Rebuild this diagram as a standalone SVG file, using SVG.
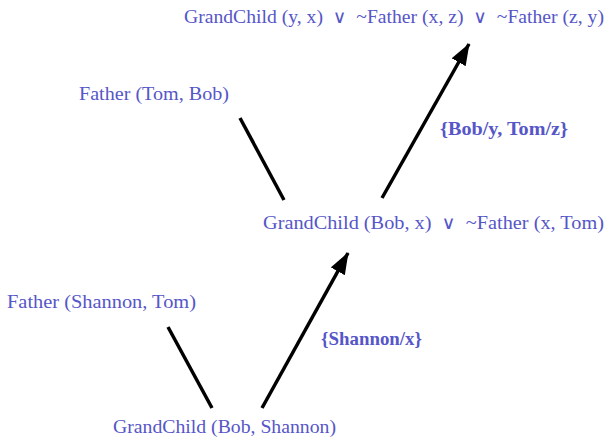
<svg xmlns="http://www.w3.org/2000/svg" width="608" height="437" viewBox="0 0 608 437">
<style>
.t{font-family:"Liberation Serif","DejaVu Serif",serif;font-size:19px;fill:#5656c8;white-space:pre}
.b{font-weight:bold}
.v{font-family:"DejaVu Sans",sans-serif;font-size:18px;font-weight:normal}
.c{stroke:#000;stroke-width:3.5;fill:none}
</style>
<defs>
<marker id="ah" markerWidth="22" markerHeight="16" refX="21" refY="8" orient="auto" markerUnits="userSpaceOnUse" viewBox="0 0 22 16">
<path d="M0,0 L22,8 L0,16 Z" fill="#000"/>
</marker>
</defs>
<rect width="608" height="437" fill="#fff"/>
<g id="connectors">
<line class="c" x1="168" y1="327" x2="212" y2="408"/>
<line class="c" x1="262" y1="408" x2="348" y2="253" marker-end="url(#ah)"/>
<line class="c" x1="240" y1="118" x2="284" y2="200"/>
<line class="c" x1="382" y1="198" x2="469" y2="44" marker-end="url(#ah)"/>
</g>
<g id="n1"><text class="t" x="184" y="23" textLength="420" lengthAdjust="spacingAndGlyphs" xml:space="preserve">GrandChild (y, x)  <tspan class="v">∨</tspan>  ~Father (x, z)  <tspan class="v">∨</tspan>  ~Father (z, y)</text></g>
<g id="n2"><text class="t" x="79" y="100" textLength="150" lengthAdjust="spacingAndGlyphs">Father (Tom, Bob)</text></g>
<g id="l1"><text class="t b" x="440" y="135" textLength="128" lengthAdjust="spacingAndGlyphs">{Bob/y, Tom/z}</text></g>
<g id="n3"><text class="t" x="263" y="229" textLength="341" lengthAdjust="spacingAndGlyphs" xml:space="preserve">GrandChild (Bob, x)  <tspan class="v">∨</tspan>  ~Father (x, Tom)</text></g>
<g id="n4"><text class="t" x="7" y="308" textLength="189" lengthAdjust="spacingAndGlyphs">Father (Shannon, Tom)</text></g>
<g id="l2"><text class="t b" x="321" y="345" textLength="101" lengthAdjust="spacingAndGlyphs">{Shannon/x}</text></g>
<g id="n5"><text class="t" x="113" y="433" textLength="223" lengthAdjust="spacingAndGlyphs">GrandChild (Bob, Shannon)</text></g>
</svg>
